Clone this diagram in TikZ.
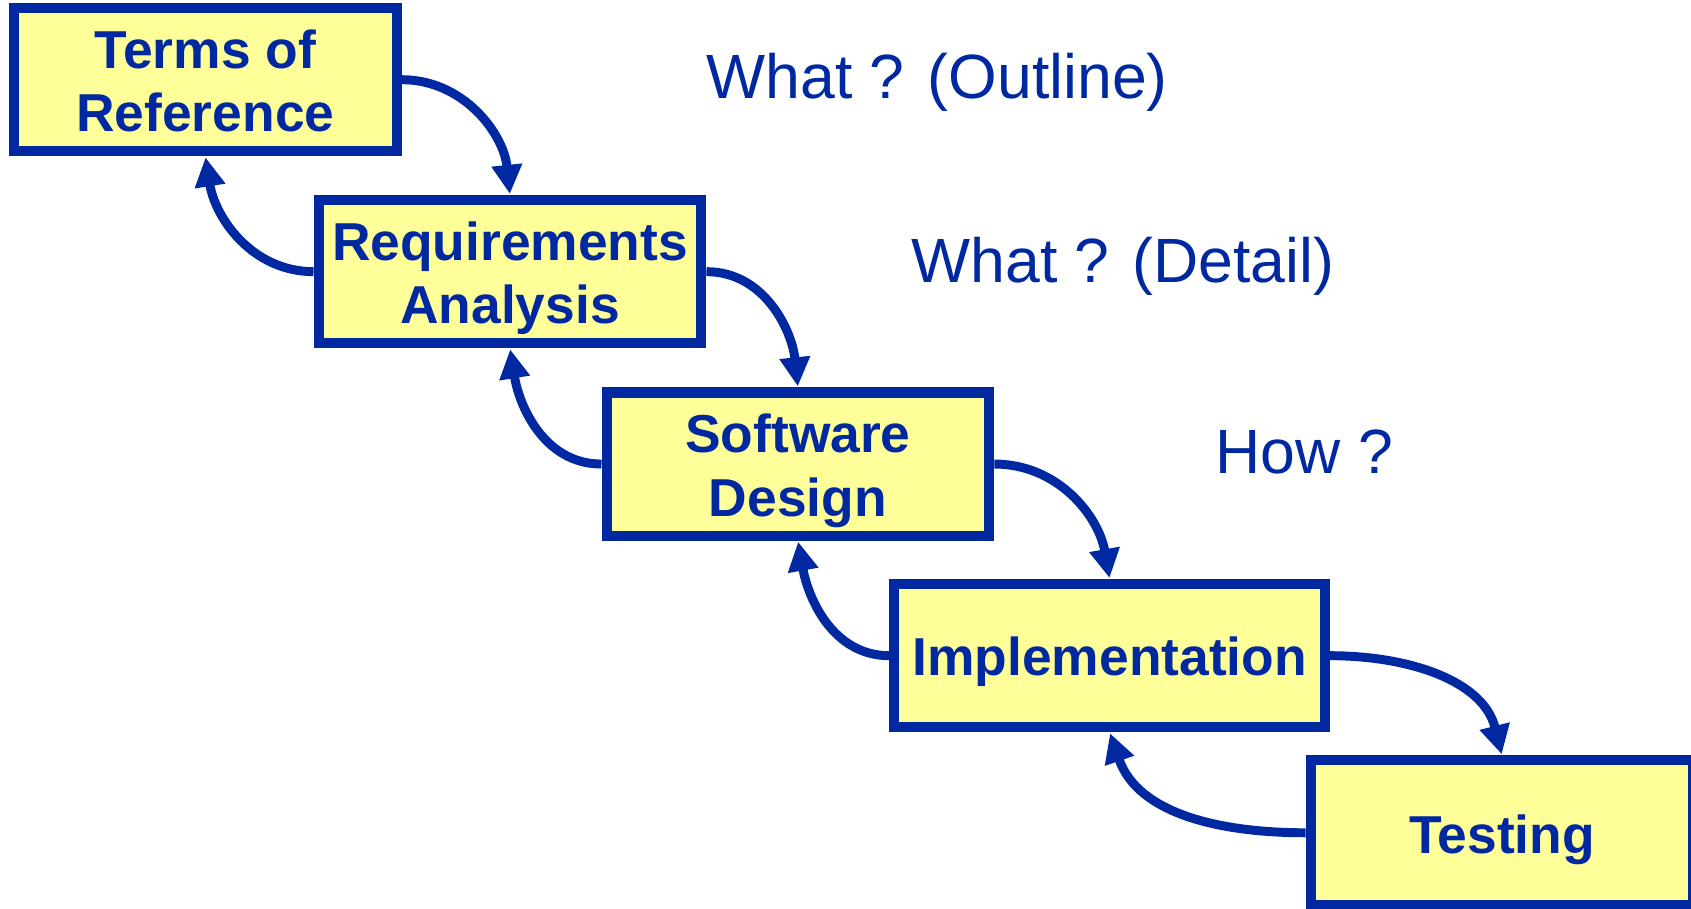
\documentclass[tikz,border=0pt]{standalone}
\usepackage{fontspec}
\setmainfont{Liberation Sans}
\usetikzlibrary{arrows.meta}
\definecolor{inkblue}{RGB}{0,40,160}
\definecolor{paleyellow}{RGB}{255,255,153}
% struts that fix the height of the first line and the depth of the last line
\newcommand\upstrut{\rule{0pt}{50pt}}
\newcommand\downstrut{\rule[-12.4pt]{0pt}{12.4pt}}
\begin{document}
\begin{tikzpicture}[x=1pt,y=1pt,
  phase/.style={draw=inkblue, fill=paleyellow, line width=9.3pt, inner sep=0pt,
    minimum width=355pt, minimum height=132.7pt, align=center, text=inkblue,
    font=\fontsize{49.5}{58.8}\selectfont\bfseries},
  flow/.style={draw=inkblue, line width=8.3pt, shorten >=1pt,
    -{Triangle[length=27pt,width=27pt]}},
  note/.style={text=inkblue, font=\fontsize{58}{68}\selectfont, inner sep=0pt, anchor=base west}]
\useasboundingbox (0,0) rectangle (1568,-842);

% phases of the waterfall
\node[phase] (tor) at (190.4,-73.9) {\upstrut Terms of\\ Reference\downstrut};
\node[phase] (req) at (472.9,-251.9) {\upstrut Requirements\\ Analysis\downstrut};
\node[phase] (des) at (739.9,-430.3) {\upstrut Software\\ Design\downstrut};
\node[phase, minimum width=399.3pt] (imp) at (1029,-608) {\upstrut Implementation\downstrut};
\node[phase, minimum height=134.2pt] (tst) at (1392.7,-772.2) {\upstrut Testing\downstrut};

% side notes
\node[note] (n1) at (655,-91) {What ? (Outline)};
\node[note] (n2) at (845,-262) {What ? (Detail)};
\node[note] (n3) at (1127,-439) {How ?};

% forward steps
\draw[flow] (tor.east) to[out=0,in=96] (req.north);
\draw[flow] (req.east) to[out=0,in=96] (des.north);
\draw[flow] (des.east) to[out=0,in=100] (imp.north);
\draw[flow] (imp.east) to[out=0,in=104] (tst.north);

% feedback steps
\draw[flow] (req.west) to[out=180,in=-81] (tor.south);
\draw[flow] (des.west) to[out=180,in=-81] (req.south);
\draw[flow] (imp.west) to[out=180,in=-80] (des.south);
\draw[flow] (tst.west) to[out=180,in=-71] (imp.south);
\end{tikzpicture}
\end{document}
